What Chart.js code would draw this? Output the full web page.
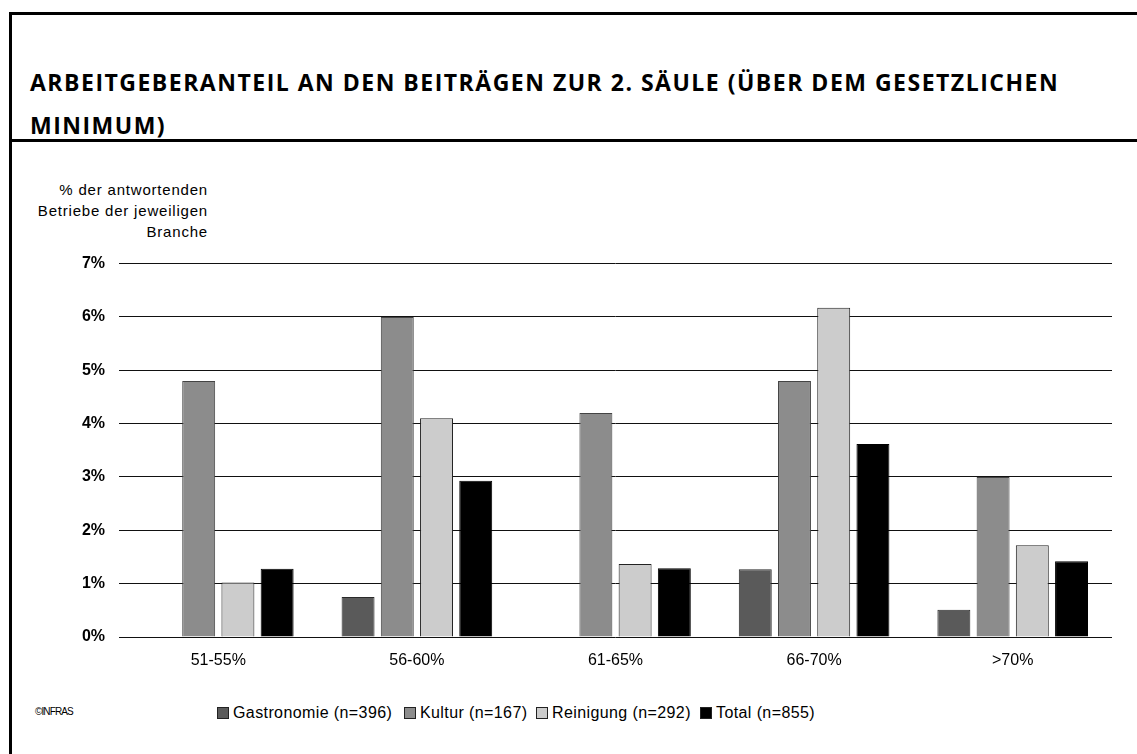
<!DOCTYPE html>
<html>
<head>
<meta charset="utf-8">
<script src="https://cdn.jsdelivr.net/npm/chart.js@4.4.1/dist/chart.umd.min.js"></script>
<style>
  html, body { margin: 0; padding: 0; background: #fff; }
  body { width: 1137px; height: 754px; position: relative; overflow: hidden; font-family: "Liberation Sans", Arial, sans-serif; color: #000; }
  .rule { position: absolute; background: #000; }
  #title { position: absolute; left: 30px; top: 61px; font-family: "Open Sans", sans-serif; font-weight: 700; font-size: 23px; letter-spacing: 1.5px; line-height: 43px; white-space: nowrap; }
  #ytitle { position: absolute; right: 929px; top: 179px; width: 220px; text-align: right; font-size: 15px; line-height: 21px; letter-spacing: 0.8px; }
  #chartBox { position: absolute; left: 0; top: 240px; width: 1137px; height: 440px; }
  .leg { position: absolute; top: 703px; height: 20px; display: flex; align-items: center; font-size: 16px; letter-spacing: 0.4px; white-space: nowrap; }
  .leg i { display: inline-block; width: 10px; height: 10px; border: 1px solid #222; margin-right: 4px; }
  #credit { position: absolute; left: 35px; top: 706px; font-size: 10px; letter-spacing: -0.9px; }
</style>
</head>
<body>
<div class="rule" style="left:9px; top:12px; width:1128px; height:3px"></div>
<div class="rule" style="left:9px; top:12px; width:3px; height:742px"></div>
<div class="rule" style="left:9px; top:139px; width:1128px; height:3px"></div>

<div id="title">ARBEITGEBERANTEIL AN DEN BEITRÄGEN ZUR 2. SÄULE (ÜBER DEM GESETZLICHEN<br>MINIMUM)</div>
<div id="ytitle">% der antwortenden<br>Betriebe der jeweiligen<br>Branche</div>
<div id="chartBox"><canvas id="chart"></canvas></div>
<div id="legend"></div>
<div id="credit">©INFRAS</div>

<script>
// categories and series (percent of responding firms)
const categories = ["51-55%", "56-60%", "61-65%", "66-70%", ">70%"];
const seriesNames = ["Gastronomie (n=396)", "Kultur (n=167)", "Reinigung (n=292)", "Total (n=855)"];
const gastronomie = [0, 0.75, 0, 1.27, 0.51];
const kultur = [4.8, 6.0, 4.2, 4.8, 3.0];
const reinigung = [1.02, 4.1, 1.37, 6.17, 1.72];
const total = [1.28, 2.93, 1.29, 3.62, 1.42];
const yTicks = [0, 1, 2, 3, 4, 5, 6, 7];

const fills = ["#5a5a5a", "#8c8c8c", "#cccccc", "#000000"];
const borders = ["#2a2a2a", "#444444", "#222222", "#000000"];
const seriesValues = [gastronomie, kultur, reinigung, total];

// html legend
const legX = [217, 404, 536, 700];
const legend = document.getElementById("legend");
seriesNames.forEach((name, i) => {
  const d = document.createElement("div");
  d.className = "leg";
  d.style.left = legX[i] + "px";
  d.innerHTML = '<i style="background:' + fills[i] + '"></i>' + name;
  legend.appendChild(d);
});

const ctx = document.getElementById("chart").getContext("2d");
new Chart(ctx, {
  type: "bar",
  data: {
    labels: categories,
    datasets: seriesNames.map((name, i) => ({
      label: name,
      data: seriesValues[i],
      backgroundColor: fills[i],
      borderColor: borders[i],
      borderWidth: 1,
      categoryPercentage: 0.79,
      barPercentage: 0.84
    }))
  },
  options: {
    responsive: true,
    maintainAspectRatio: false,
    animation: false,
    layout: { padding: { top: 22, right: 25, left: 0, bottom: 0 } },
    plugins: {
      legend: { display: false },
      tooltip: { enabled: false }
    },
    scales: {
      x: {
        grid: { display: false, drawTicks: false },
        border: { display: false },
        ticks: {
          color: "#000",
          padding: 14,
          font: { family: "Liberation Sans", size: 16 }
        },
        afterFit: (scale) => { scale.height = 43; }
      },
      y: {
        min: 0,
        max: 7,
        afterBuildTicks: (scale) => { scale.ticks = yTicks.map(v => ({ value: v })); },
        grid: { color: "#111", lineWidth: 1, drawTicks: false },
        border: { display: false },
        ticks: {
          color: "#000",
          padding: 14,
          font: { family: "Liberation Sans", size: 16, weight: "bold" },
          callback: (v) => v + "%"
        },
        afterFit: (scale) => { scale.width = 119; }
      }
    }
  }
});
</script>
</body>
</html>
